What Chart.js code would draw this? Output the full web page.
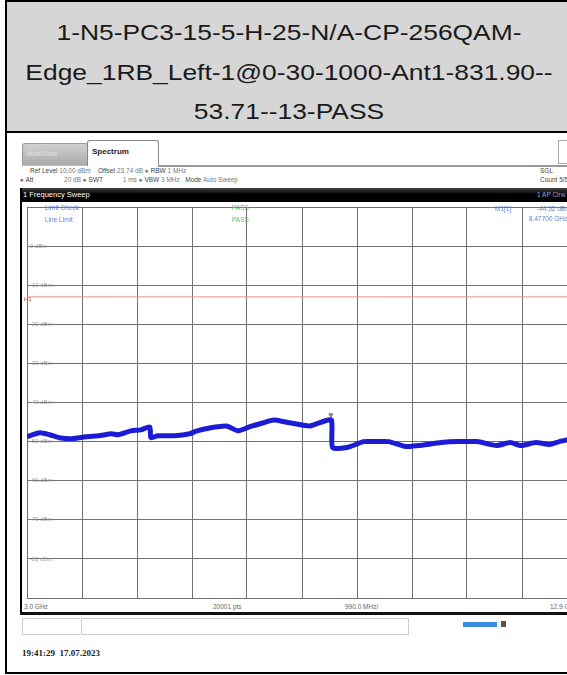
<!DOCTYPE html>
<html>
<head>
<meta charset="utf-8">
<script src="https://cdn.jsdelivr.net/npm/chart.js@4.4.0/dist/chart.umd.min.js"></script>
<style>
html, body { margin:0; padding:0; width:567px; height:675px; overflow:hidden; background:#fff;
  font-family:"Liberation Sans", Arial, sans-serif; }
.abs { position:absolute; white-space:nowrap; }
#frame { left:5px; top:0; width:600px; height:670px; border:2px solid #000; border-right:none; }
#titleCell { left:7px; top:2px; width:600px; height:129px; background:#d6d6d6; border-bottom:2px solid #000; }
#title { left:7px; top:13px; width:564px; text-align:center; font-size:22px; line-height:39.5px; color:#1a1a1a;
  transform:scaleX(1.2); transform-origin:50% 0; }
.tiny { font-size:6.5px; color:#777; }
.tiny b { color:#444; font-weight:normal; }
.blue { color:#5b86d6; font-size:6.5px; }
.green { color:#5cc05c; font-size:6.5px; }
.foot { font-size:6.5px; color:#666; top:603px; }
#plot { left:22px; top:202px; width:560px; height:401px; }
</style>
</head>
<body>
<div id="frame" class="abs"></div>
<div id="titleCell" class="abs"></div>
<div id="title" class="abs">1-N5-PC3-15-5-H-25-N/A-CP-256QAM-<br>Edge_1RB_Left-1@0-30-1000-Ant1-831.90--<br>53.71--13-PASS</div>

<!-- analyzer header -->
<div class="abs" style="left:22px;top:143px;width:64px;height:22px;background:linear-gradient(#d0d0d0,#a9a9a9);border:1px solid #999;border-bottom:none;border-radius:3px 3px 0 0;"></div>
<div class="abs" style="left:27px;top:150px;font-size:7px;color:#e4e4e4;">MultiView</div>
<div class="abs" style="left:87px;top:140px;width:70px;height:25px;background:#fff;border:1px solid #888;border-bottom:none;border-radius:3px 3px 0 0;"></div>
<div class="abs" style="left:92px;top:147px;font-size:8px;font-weight:bold;color:#222;">Spectrum</div>
<div class="abs" style="left:158px;top:165px;width:420px;height:2px;background:#9a9a9a;"></div>
<div class="abs" style="left:22px;top:165px;width:65px;height:1px;background:#bbb;"></div>
<div class="abs" style="left:558px;top:140px;width:20px;height:22px;border:1px solid #aaa;"></div>
<div class="abs tiny" style="left:30px;top:167px;"><b>Ref Level</b> 10.00 dBm &nbsp;&nbsp; <b>Offset</b> 23.74 dB ● <b>RBW</b> 1 MHz</div>
<div class="abs tiny" style="left:20px;top:176px;">● <b>Att</b> &nbsp;&nbsp;&nbsp;&nbsp;&nbsp;&nbsp;&nbsp;&nbsp;&nbsp;&nbsp;&nbsp;&nbsp;&nbsp;&nbsp;&nbsp; 20 dB ● <b>SWT</b> &nbsp;&nbsp;&nbsp;&nbsp;&nbsp;&nbsp;&nbsp;&nbsp;&nbsp; 1 ms ● <b>VBW</b> 3 MHz &nbsp; <b>Mode</b> Auto Sweep</div>
<div class="abs tiny" style="left:540px;top:167px;color:#444;">SGL</div>
<div class="abs tiny" style="left:540px;top:176px;color:#444;">Count 5/5</div>
<div class="abs" style="left:20px;top:188px;width:560px;height:14px;background:linear-gradient(#444,#000 45%,#000);"></div>
<div class="abs" style="left:23px;top:190px;font-size:7.5px;color:#fff;">1 Frequency Sweep</div>
<div class="abs" style="left:537px;top:191px;font-size:6.5px;color:#8fa6d8;">1 AP Clrw</div>
<div class="abs" style="left:20px;top:188px;width:2px;height:427px;background:#000;"></div>

<div id="plot" class="abs"><canvas id="canvas"></canvas></div>

<!-- in-plot annotations -->
<div class="abs blue" style="left:45px;top:204px;">Limit Check</div>
<div class="abs blue" style="left:45px;top:216px;">Line Limit</div>
<div class="abs green" style="left:232px;top:204px;">PASS</div>
<div class="abs green" style="left:232px;top:216px;">PASS</div>
<div class="abs blue" style="left:495px;top:205px;">M1[1]</div>
<div class="abs blue" style="left:537px;top:205px;">-44.52 dBm</div>
<div class="abs blue" style="left:529px;top:215px;">8.47700 GHz</div>
<div class="abs" style="left:24px;top:296px;font-size:6px;color:#e04040;">H1</div>

<!-- footer of analyzer -->
<div class="abs foot" style="left:24px;">3.0 GHz</div>
<div class="abs foot" style="left:213px;">20001 pts</div>
<div class="abs foot" style="left:345px;">990.0 MHz/</div>
<div class="abs foot" style="left:550px;">12.9 GHz</div>
<div class="abs" style="left:20px;top:612px;width:560px;height:3px;background:#111;"></div>
<div class="abs" style="left:22px;top:618px;width:57px;height:15px;border:1px solid #ccc;border-right:none;"></div>
<div class="abs" style="left:81px;top:618px;width:326px;height:15px;border:1px solid #ccc;"></div>
<div class="abs" style="left:463px;top:622px;width:34px;height:5px;background:#3b8de0;"></div>
<div class="abs" style="left:501px;top:621px;width:5px;height:6px;background:#555;"></div>
<div class="abs" style="left:22px;top:648px;font-family:'Liberation Serif',serif;font-weight:bold;font-size:9px;color:#222;">19:41:29&nbsp; 17.07.2023</div>

<script>
// trace (GHz / dBm)
var traceFreq = [3.00, 3.23, 3.41, 3.58, 3.81, 4.06, 4.29, 4.52, 4.64, 4.87, 5.05, 5.21,
    5.23, 5.35, 5.65, 5.93, 6.06, 6.29, 6.59, 6.80, 7.00, 7.24, 7.44, 7.65, 7.95, 8.09, 8.30, 8.48,
    8.50, 8.76, 9.06, 9.28, 9.51, 9.81, 10.04, 10.46, 10.74, 11.10, 11.45, 11.70, 11.89, 12.16,
    12.41, 12.58, 12.90];
var traceLevel = [-48.75, -47.75, -48.25, -49.0, -49.25, -48.75, -48.5, -48.0, -48.25, -47.25, -47.0, -46.25,
    -49.0, -48.5, -48.5, -48.0, -47.25, -46.5, -46.0, -47.25, -46.25, -45.25, -44.5, -45.0, -45.75, -46.0, -45.0, -44.5,
    -51.5, -51.5, -50.0, -50.0, -50.0, -51.25, -51.0, -50.25, -50.0, -50.0, -51.0, -50.25, -51.0, -50.25,
    -50.75, -50.0, -49.0];
var limitFreq = [3.0, 12.9];
var limitLevel = [-13, -13];
var markerFreq = [8.47];
var markerLevel = [-43.2];
var freqStart = 3.0, freqStop = 12.9, freqDiv = 0.99;
var refLevel = 10, bottomLevel = -90, dbDiv = 10;

function pairs(xs, ys) {
    var out = [];
    for (var i = 0; i < xs.length; i++) out.push({x: xs[i], y: ys[i]});
    return out;
}

var ctx = document.getElementById('canvas').getContext('2d');
new Chart(ctx, {
    type: 'line',
    data: {
        datasets: [{
            data: pairs(traceFreq, traceLevel),
            borderColor: 'rgb(28,28,215)',
            borderWidth: 5,
            pointRadius: 0,
            tension: 0.2
        }, {
            data: pairs(limitFreq, limitLevel),
            borderColor: '#ec8b8b',
            borderWidth: 1,
            pointRadius: 0
        }, {
            data: pairs(markerFreq, markerLevel),
            showLine: false,
            pointStyle: 'triangle',
            rotation: 180,
            pointRadius: 2.5,
            backgroundColor: '#8a8a8a',
            borderColor: '#8a8a8a'
        }]
    },
    options: {
        animation: false,
        responsive: true,
        maintainAspectRatio: false,
        layout: { padding: 0 },
        plugins: { legend: { display: false }, tooltip: { enabled: false } },
        scales: {
            x: {
                type: 'linear', min: freqStart, max: freqStop,
                ticks: { display: false, stepSize: freqDiv },
                grid: { color: '#707070', lineWidth: 1, drawTicks: false },
                border: { display: false },
                afterFit: function(s) { s.height = 0; s.paddingLeft = 0; s.paddingRight = 0; }
            },
            y: {
                min: bottomLevel, max: refLevel,
                ticks: {
                    stepSize: dbDiv, mirror: true, padding: 3,
                    color: '#9a9a9a', font: { size: 6, family: 'Liberation Sans' },
                    callback: function(v) { return (v === refLevel || v === bottomLevel) ? '' : v + ' dBm'; }
                },
                grid: { color: '#707070', lineWidth: 1, drawTicks: false },
                border: { display: false },
                afterFit: function(s) { s.width = 0; s.paddingTop = 0; s.paddingBottom = 0; }
            }
        }
    }
});
</script>
</body>
</html>
